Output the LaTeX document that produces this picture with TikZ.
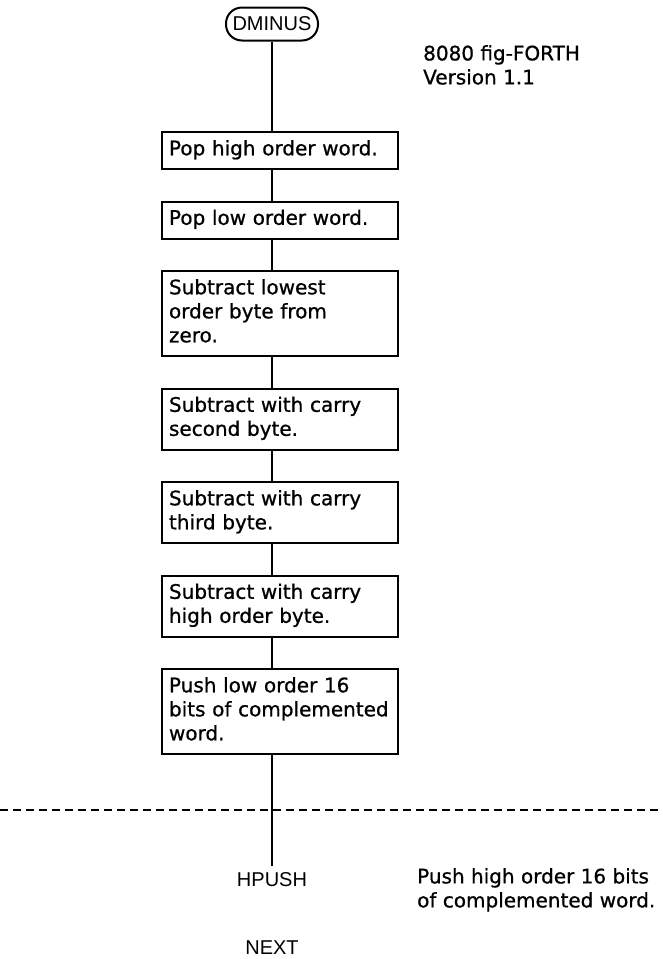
\documentclass[tikz,border=0pt]{standalone}
\usepackage{fontspec}
\usepackage{tikz}
\usetikzlibrary{positioning}
\setmainfont{DejaVu Sans}[FakeBold=0.8]
\newfontfamily\labelfont{Liberation Sans}

\begin{document}
\begin{tikzpicture}[x=1pt, y=-1pt, node distance=30.5pt,
    stepbox/.style={draw, line width=2pt, align=left, text width=222pt,
                    inner xsep=7pt, inner ysep=6.5pt, font=\fontsize{20}{24}\selectfont,
                    execute at begin node=\strut, execute at end node=\strut},
    terminal/.style={draw, line width=2pt, rounded corners=16pt, minimum width=92pt,
                     minimum height=33pt, inner sep=2pt, font=\labelfont\fontsize{20}{24}\selectfont},
    label/.style={font=\labelfont\fontsize{20}{24}\selectfont},
    note/.style={align=left, anchor=north west, inner sep=0pt, font=\fontsize{20}{24}\selectfont},
    flow/.style={line width=2.4pt}]
  \useasboundingbox (0,0) rectangle (662,959);
  \node[terminal] (dminus) at (272,24) {DMINUS};
  \node[note] (version) at (423,45) {8080 fig-FORTH\\Version 1.1};

  \node[stepbox, anchor=north] (pophigh) at (280,131) {Pop high order word.};
  \node[stepbox, below=of pophigh] (poplow) {Pop low order word.};
  \node[stepbox, below=of poplow] (sublow) {Subtract lowest\\order byte from\\zero.};
  \node[stepbox, below=of sublow] (subsecond) {Subtract with carry\\second byte.};
  \node[stepbox, below=of subsecond] (subthird) {Subtract with carry\\third byte.};
  \node[stepbox, below=of subthird] (subhigh) {Subtract with carry\\high order byte.};
  \node[stepbox, below=of subhigh] (pushlow) {Push low order 16\\bits of complemented\\word.};

  \draw[flow] (dminus) -- (pophigh.north -| dminus);
  \foreach \a/\b in {pophigh/poplow, poplow/sublow, sublow/subsecond,
                     subsecond/subthird, subthird/subhigh, subhigh/pushlow}
    \draw[flow] (\a.south -| dminus) -- (\b.north -| dminus);

  \draw[dash pattern=on 8pt off 5pt, line width=2.2pt] (0,810) -- (662,810);

  \node[label] (hpush) at (272,880) {HPUSH};
  \coordinate (hpend) at (272,866);
  \draw[flow] (pushlow.south -| dminus) -- (hpend);
  \node[note] (pushhigh) at (417,868) {Push high order 16 bits\\of complemented word.};
  \node[label] (next) at (272,948) {NEXT};
\end{tikzpicture}
\end{document}
